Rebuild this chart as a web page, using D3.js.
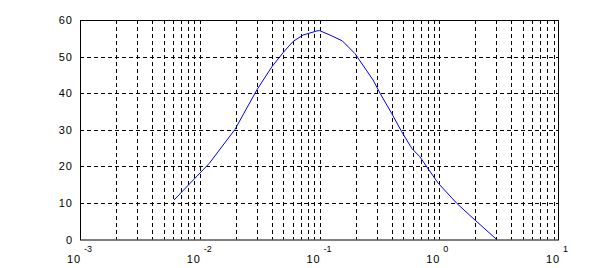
<!DOCTYPE html>
<html><head><meta charset="utf-8">
<script src="https://cdn.jsdelivr.net/npm/d3@7"></script>
<style>body{margin:0;background:#fff}svg{display:block}text{font-family:"Liberation Sans",Arial,sans-serif;font-size:11px;fill:#000}</style>
</head><body><svg id="c" width="611" height="268"></svg>
<script>
const xValues = [0.0061,0.012,0.0197,0.030,0.040,0.050,0.060,0.073,0.095,0.10,0.122,0.155,0.198,0.28,0.32,0.40,0.485,0.59,0.69,0.785,0.98,1.40,1.99,3.02];
const yValues = [10.8,20.8,30.1,40.9,47.2,51.2,54.1,55.9,57.0,57.1,55.9,54.3,50.8,43.6,40.0,34.5,29.5,24.9,22.6,19.9,15.4,9.9,5.3,0];
const yTicks = [0,10,20,30,40,50,60];
const xDecades = [-3,-2,-1,0,1];

const svg = d3.select("#c");
const L=80,R=559,T=20,B=239.5;
const x = d3.scaleLog().domain([1e-3,1e1]).range([L,R]);
const y = d3.scaleLinear().domain([0,60]).range([B,T]);

// grid vertical (major + minor)
const vgrid=[];
for(let d=-3; d<1; d++){ for(let m=1;m<=9;m++){ const v=m*Math.pow(10,d); if(!(d===-3&&m===1)) vgrid.push(v);} }
svg.append("g").selectAll("line").data(vgrid).join("line")
 .attr("x1",d=>Math.round(x(d))+0.5).attr("x2",d=>Math.round(x(d))+0.5)
 .attr("y1",T).attr("y2",B).attr("stroke","#000").attr("stroke-width",1).attr("stroke-dasharray","4,3");
svg.append("g").selectAll("line").data(yTicks.slice(1,-1)).join("line")
 .attr("y1",d=>Math.round(y(d))+0.5).attr("y2",d=>Math.round(y(d))+0.5)
 .attr("x1",L).attr("x2",R).attr("stroke","#000").attr("stroke-width",1).attr("stroke-dasharray","4,3");

// box
svg.append("rect").attr("x",L+0.5).attr("y",T+0.5).attr("width",R-L-1).attr("height",B-T).attr("fill","none").attr("stroke","#000").attr("stroke-width",1);

// line
const line=d3.line().x((d,i)=>x(xValues[i])).y(d=>y(d));
svg.append("path").datum(yValues).attr("d",line).attr("fill","none").attr("stroke","#0000ff").attr("stroke-width",1);

// y labels
svg.append("g").selectAll("text").data(yTicks).join("text")
 .attr("x",L-7).attr("y",d=>y(d)+4).attr("text-anchor","end").attr("letter-spacing","1px").text(d=>d);

// x labels
const xl=svg.append("g").selectAll("g").data(xDecades).join("g")
 .attr("transform",d=>`translate(${x(Math.pow(10,d))},0)`);
xl.append("text").attr("x",-13).attr("y",263).attr("letter-spacing","1px").text("10");
xl.append("text").attr("x",4).attr("y",252).attr("font-size","9px").style("font-size","9px").text(d=>d);
</script></body></html>
